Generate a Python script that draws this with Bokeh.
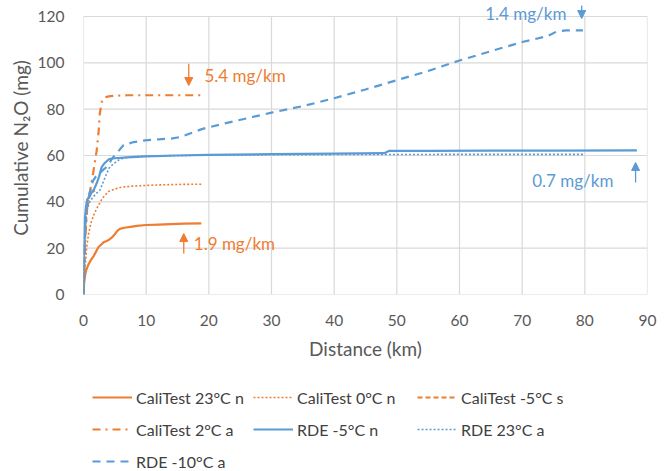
from bokeh.plotting import figure
from bokeh.layouts import column
from bokeh.models import Range1d, Legend, LegendItem, Label, Arrow, NormalHead
from bokeh.embed import file_html
from bokeh.resources import INLINE

ORANGE = "#ED7D31"
BLUE = "#5B9BD5"
GRID = "#d9d9d9"
FONT = "Lato"

# ---- data (distance km, cumulative N2O mg) ----
cali23n_x = [0, 0.1, 0.3, 0.5, 0.8, 1.2, 1.6, 2.0, 2.4, 2.8, 3.2, 3.6, 4.0, 4.5, 5.0, 5.4, 5.8, 6.5, 7.5, 8.5, 10, 12, 14, 16, 18.8]
cali23n_y = [0, 5, 9, 11, 13, 15, 16.5, 18.5, 20.5, 21.5, 22.5, 23, 23.5, 24.5, 26, 27.5, 28.3, 28.8, 29.2, 29.6, 30, 30.2, 30.4, 30.6, 30.7]

cali0n_x = [0, 0.2, 0.5, 0.8, 1.2, 1.6, 2.0, 2.5, 3.0, 3.5, 4.0, 5.0, 6.0, 8.0, 10, 12, 15, 18.9]
cali0n_y = [0, 10, 20, 26, 31, 34, 36.5, 39, 41.5, 43, 44.5, 45.5, 46.3, 46.8, 47.1, 47.3, 47.5, 47.6]

calim5s_x = [0, 0.2, 0.5, 0.9, 1.3, 1.8]
calim5s_y = [0, 22, 36, 42, 44, 45]

cali2a_x = [0, 0.3, 0.6, 1.0, 1.4, 1.8, 2.1, 2.4, 2.6, 2.9, 3.3, 4.0, 5.0, 7, 10, 14, 19.1]
cali2a_y = [0, 25, 38, 44, 50, 57, 62, 70, 78, 83, 85, 85.5, 85.8, 86, 86, 86, 86]

rdem5n_x = [0, 0.1, 0.2, 0.4, 0.6, 1.0, 1.3, 1.7, 2.1, 2.5, 2.9, 3.3, 3.7, 4.1, 5.0, 7, 10, 15, 20, 30, 40, 48, 48.8, 55, 65, 75, 88.3]
rdem5n_y = [0, 20, 32, 38, 41, 42.5, 44, 45.5, 48, 51, 55, 56.5, 57.5, 58.5, 58.8, 59.2, 59.6, 60, 60.3, 60.6, 60.8, 61, 62, 62, 62.1, 62.1, 62.2]

rde23a_x = [0, 0.2, 0.5, 1.0, 1.5, 2.0, 2.6, 3.0, 3.5, 4.1, 4.8, 5.6, 6.5, 8, 10, 15, 20, 30, 40, 50, 60, 70, 79.7]
rde23a_y = [0, 25, 36, 40, 42, 43.5, 45, 47.5, 51, 54.6, 56.5, 58, 59, 59.5, 59.8, 60, 60.2, 60.3, 60.4, 60.4, 60.5, 60.5, 60.5]

rdem10a_x = [0, 0.2, 0.5, 1.0, 1.5, 2.0, 2.5, 3.0, 3.5, 4.0, 4.5, 5.3, 6.4, 8, 9.8, 12, 14, 15.5, 17, 19, 22, 26, 30, 35, 40, 45, 50, 55, 60, 65, 70, 72, 74, 75.5, 77, 79.7]
rdem10a_y = [0, 25, 38, 44, 49, 51, 52, 53.5, 54.6, 56, 58.5, 61, 64.5, 65.8, 66.5, 67, 67.3, 68, 69.5, 71.5, 73.5, 76, 78.5, 81.3, 84.7, 88.5, 92.5, 96.5, 101, 105, 109, 110.2, 111.5, 113.5, 114, 114]

series_labels = ["CaliTest 23°C n", "CaliTest 0°C n", "CaliTest -5°C s", "CaliTest 2°C a",
                 "RDE -5°C n", "RDE 23°C a", "RDE -10°C a"]

x_ticks = [0, 10, 20, 30, 40, 50, 60, 70, 80, 90]
y_ticks = [0, 20, 40, 60, 80, 100, 120]

# annotations
note_texts = ["5.4 mg/km", "1.9 mg/km", "1.4 mg/km", "0.7 mg/km"]
note_x = [19.3, 17.6, 64.1, 71.6]
note_y = [94.5, 22.0, 121.2, 49.2]
arrow_x = [16.8, 16.0, 79.5, 88.1]
arrow_y0 = [99.6, 17.7, 124.7, 48.3]
arrow_y1 = [90.2, 26.3, 119.1, 57.0]

styles = [
    dict(line_color=ORANGE, line_width=2.2),
    dict(line_color=ORANGE, line_width=1.6, line_dash="2 2"),
    dict(line_color=ORANGE, line_width=2.2, line_dash="5 3"),
    dict(line_color=ORANGE, line_width=2.2, line_dash="8 5 2 5"),
    dict(line_color=BLUE, line_width=2.2),
    dict(line_color=BLUE, line_width=1.6, line_dash="2 2"),
    dict(line_color=BLUE, line_width=2.2, line_dash="8 6"),
]
note_colors = [ORANGE, ORANGE, BLUE, BLUE]

p = figure(frame_width=564, frame_height=293,
           min_border_left=83, min_border_right=23, min_border_top=1, min_border_bottom=81,
           x_range=Range1d(0, 90), y_range=Range1d(0, 126.47),
           output_backend="svg", toolbar_location=None)
p.background_fill_color = "white"
p.border_fill_color = "white"
p.outline_line_color = None
p.xgrid.visible = False
p.ygrid.visible = False

for ax in (p.xaxis[0], p.yaxis[0]):
    ax.axis_line_color = None
    ax.major_tick_line_color = None
    ax.minor_tick_line_color = None
    ax.major_tick_out = 0
    ax.major_tick_in = 0
    ax.major_label_text_font = FONT
    ax.major_label_text_font_size = "15.5px"
    ax.major_label_text_color = "#595959"
    ax.axis_label_text_font = FONT
    ax.axis_label_text_font_size = "19px"
    ax.axis_label_text_font_style = "normal"
    ax.axis_label_text_color = "#595959"

p.xaxis.ticker = x_ticks
p.yaxis.ticker = y_ticks
p.xaxis.major_label_standoff = 20
p.yaxis.major_label_standoff = 19
p.xaxis.axis_label = "Distance (km)"
p.yaxis.axis_label = "Cumulative N\u2082O (mg)"
p.xaxis.axis_label_standoff = 8
p.yaxis.axis_label_standoff = 3

# grid lines (drawn only over the 0-90 x 0-120 plot box)
p.segment(x0=x_ticks, y0=[y_ticks[0]] * len(x_ticks), x1=x_ticks, y1=[y_ticks[-1]] * len(x_ticks),
          line_color=GRID, line_width=1.2, level="underlay")
p.segment(x0=[x_ticks[0]] * len(y_ticks), y0=y_ticks, x1=[x_ticks[-1]] * len(y_ticks), y1=y_ticks,
          line_color=GRID, line_width=1.2, level="underlay")

series = [(cali23n_x, cali23n_y), (cali0n_x, cali0n_y), (calim5s_x, calim5s_y), (cali2a_x, cali2a_y),
          (rdem5n_x, rdem5n_y), (rde23a_x, rde23a_y), (rdem10a_x, rdem10a_y)]
for (xs, ys), st in zip(series, styles):
    p.line(xs, ys, **st)

for t, x, y, c in zip(note_texts, note_x, note_y, note_colors):
    p.add_layout(Label(x=x, y=y, text=t, text_color=c, text_font=FONT,
                       text_font_size="17px", text_align="left", text_baseline="middle"))
for x, y0, y1, c in zip(arrow_x, arrow_y0, arrow_y1, note_colors):
    p.add_layout(Arrow(x_start=x, y_start=y0, x_end=x, y_end=y1, line_color=c, line_width=1.3,
                       end=NormalHead(size=8, fill_color=c, line_color=c)))

# ---- legend strip below the chart (hidden copies of the series supply the swatches) ----
q = figure(width=670, height=96, x_axis_type=None, y_axis_type=None,
           min_border=0, min_border_left=0, min_border_right=0, min_border_top=0, min_border_bottom=0,
           x_range=Range1d(0, 90), y_range=Range1d(0, 120),
           output_backend="svg", toolbar_location=None)
q.outline_line_color = None
q.background_fill_color = "white"
q.border_fill_color = "white"
leg_r = [q.line(xs, ys, visible=False, **st) for (xs, ys), st in zip(series, styles)]

col_members = [[0, 3, 6], [1, 4], [2, 5]]
col_x = [92, 253, 417]
for members, lx in zip(col_members, col_x):
    n = len(members)
    h = n * 26 + (n - 1) * 6
    lg = Legend(items=[LegendItem(label=series_labels[i], renderers=[leg_r[i]]) for i in members],
                orientation="vertical")
    lg.location = (lx - 83, 96 - 9 - h)
    lg.spacing = 6
    lg.padding = 0
    lg.margin = 0
    lg.glyph_width = 40
    lg.glyph_height = 26
    lg.label_standoff = 4
    lg.label_height = 26
    lg.label_text_font = FONT
    lg.label_text_font_size = "16px"
    lg.label_text_color = "#404040"
    lg.border_line_color = None
    lg.background_fill_alpha = 0
    q.add_layout(lg, "center")

layout = column(p, q, spacing=0)
open("out.html", "w").write(file_html(layout, INLINE))
